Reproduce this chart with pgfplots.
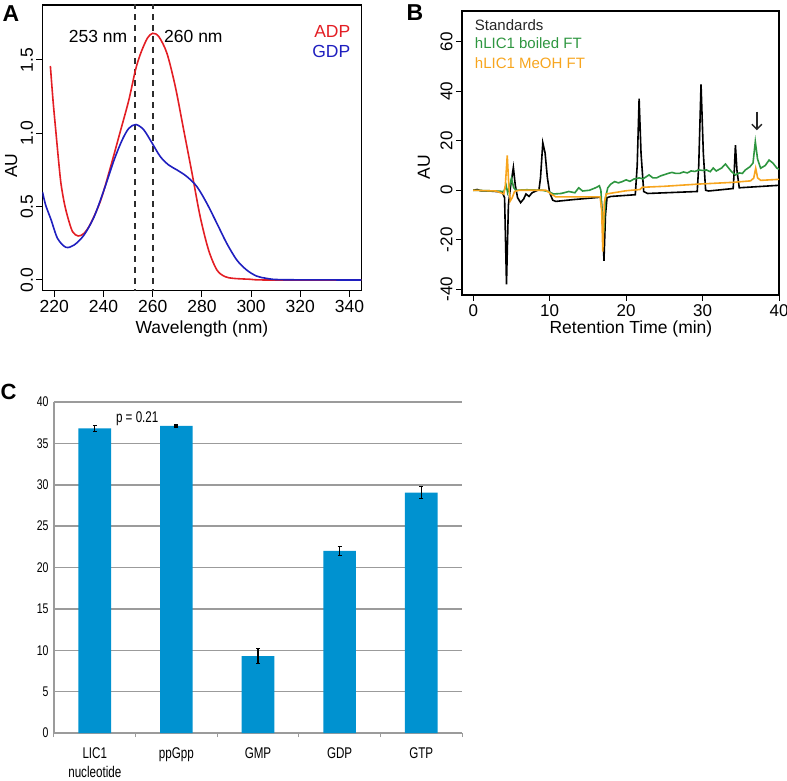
\documentclass[border=0pt]{standalone}
\usepackage{pgfplots}
\pgfplotsset{compat=1.18}
\usetikzlibrary{arrows.meta}
\usepackage{fontspec}
\setmainfont{Liberation Sans}
\newfontfamily\narrowfont[FakeStretch=0.75]{Liberation Sans}
\definecolor{adp}{RGB}{227,30,36}
\definecolor{gdp}{RGB}{31,31,191}
\definecolor{stdgreen}{RGB}{46,150,64}
\definecolor{meorange}{RGB}{247,165,30}
\definecolor{barblue}{RGB}{0,146,208}
\definecolor{gridgray}{RGB}{155,155,155}
\definecolor{dashgray}{RGB}{45,45,45}
\begin{document}
\begin{tikzpicture}[x=1pt,y=1pt,font=\fontsize{17.5}{20}\selectfont]
\pgfplotsset{/pgf/number format/assume math mode=true}

% ---------------- Panel A ----------------
\begin{axis}[at={(42.5pt,489.3pt)}, anchor=south west, scale only axis,
  width=318.8pt, height=285.7pt,
  xmin=215.2, xmax=344.8, ymin=-0.073, ymax=1.875,
  axis line style={line width=1.1pt},
  tick align=outside, tick pos=left, major tick length=6pt,
  tick style={black, line width=1pt},
  xtick={220,240,...,340},
  ytick={0,0.5,1,1.5}, yticklabels={0.0,0.5,1.0,1.5},
  yticklabel style={rotate=90, anchor=south},
  tick label style={font=\fontsize{17.5}{20}\selectfont},
  xlabel={Wavelength (nm)}, ylabel={AU},
  xlabel style={at={(axis description cs:0.5,-0.1325)}, anchor=center},
  ylabel style={at={(axis description cs:-0.098,0.438)}, anchor=center},
  clip=true]
\addplot[dashgray, line width=2pt, dash pattern=on 6pt off 5pt] coordinates {(253,-0.1) (253,1.9)};
\addplot[dashgray, line width=2pt, dash pattern=on 6pt off 5pt] coordinates {(260,-0.1) (260,1.9)};
\addplot[adp, line width=1.6pt, smooth, tension=0.5] coordinates {
(218.4,1.459)(219.5,1.22)(220.7,1.0)(221.7,0.82)(222.7,0.659)(224,0.53)(225.4,0.432)(227.4,0.33)(229.7,0.30)(232.1,0.318)(234.8,0.386)(238.9,0.545)(242.9,0.773)(247.0,1.023)(250.3,1.227)(253.0,1.432)(255.1,1.545)(257.8,1.648)(260.0,1.682)(262.5,1.659)(265.8,1.545)(269.2,1.318)(272.6,1.023)(276.0,0.727)(279.3,0.432)(282.7,0.205)(286.1,0.068)(289.4,0.023)(292.8,0.011)(299.5,0.005)(306.3,0)(344.8,0)};
\addplot[gdp, line width=1.6pt, smooth, tension=0.5] coordinates {
(215.2,0.60)(216.5,0.51)(218.7,0.41)(221.3,0.284)(224.7,0.223)(228.1,0.239)(232.1,0.307)(236.2,0.432)(240.2,0.614)(244.3,0.818)(247.6,0.955)(250.3,1.034)(253.2,1.06)(256.4,1.023)(259.8,0.932)(263.1,0.841)(266.5,0.784)(269.9,0.75)(273.9,0.705)(278.0,0.636)(282.0,0.523)(286.1,0.386)(290.1,0.25)(294.2,0.136)(298.2,0.068)(302.2,0.027)(306.3,0.011)(313.0,0.002)(344.8,0)};
\node[anchor=east, inner sep=0pt] at (axis cs:249.7,1.657) {253 nm};
\node[anchor=west, inner sep=0pt] at (axis cs:264.6,1.657) {260 nm};
\node[anchor=east, inner sep=0pt, text=adp] at (axis cs:340.4,1.693) {ADP};
\node[anchor=east, inner sep=0pt, text=gdp] at (axis cs:340.4,1.557) {GDP};
\end{axis}

% ---------------- Panel B ----------------
\begin{axis}[at={(462pt,485pt)}, anchor=south west, scale only axis,
  width=317pt, height=284pt,
  xmin=-1.47, xmax=40, ymin=-42.3, ymax=72.4,
  axis line style={line width=1.1pt},
  tick align=outside, tick pos=left, major tick length=6pt,
  tick style={black, line width=1pt},
  xtick={0,10,...,40},
  ytick={-40,-20,0,20,40,60}, yticklabels={-40,-20,0,20,40,60},
  yticklabel style={rotate=90, anchor=south},
  tick label style={font=\fontsize{17}{20}\selectfont},
  xlabel={Retention Time (min)}, ylabel={AU},
  xlabel style={at={(axis description cs:0.533,-0.119)}, anchor=center},
  ylabel style={at={(axis description cs:-0.12,0.451)}, anchor=center},
  clip=true]
\addplot[black, line width=1.6pt, sharp plot] coordinates {
(0,0)(0.5,0.3)(1,-0.2)(2,-0.3)(3,-0.5)(3.8,-0.8)(4.1,-3)(4.35,-38)(4.6,-6)(4.9,2)(5.25,9.2)(5.5,2)(5.8,-3)(6.2,-5)(6.6,-3.5)(6.9,-1.5)(7.3,-2.5)(7.7,-1)(8.2,-0.3)(8.6,0.2)(8.8,5)(9.1,19.2)(9.4,15)(9.7,5)(10.0,-1)(10.4,-4)(10.8,-4.5)(13,-3.8)(16.7,-2.8)(16.9,-10)(17.1,-28.5)(17.3,-10)(17.5,-3)(18,-2.5)(21.2,-1.8)(21.45,10)(21.7,37)(21.95,15)(22.3,-0.5)(22.8,-1.3)(29.3,-0.5)(29.5,10)(29.8,42.8)(30.1,15)(30.4,0)(30.8,-0.3)(34.0,0.7)(34.15,8)(34.3,18.2)(34.5,8)(34.8,1)(40,2)};
\addplot[stdgreen, line width=1.6pt, sharp plot] coordinates {
(0,0)(3,-0.3)(4.0,-0.5)(4.3,2)(4.5,-1)(4.7,1)(5.0,4.7)(5.3,1)(5.6,0)(7,0.2)(9,0)(9.8,-0.5)(10.5,-1.5)(11.5,-1.3)(12.5,-0.5)(13.3,-1)(13.8,1)(14.3,-0.3)(15.2,0)(16,1)(16.5,1.8)(16.7,0)(16.9,-12)(17.1,-15)(17.3,-3)(17.6,1)(18,2.5)(18.5,3.5)(19,3)(19.5,3.5)(20,4.2)(20.5,3.6)(21,4.5)(21.7,5)(22.2,4.6)(23,6.2)(23.5,5)(24,5)(24.5,5.8)(25.6,6.9)(26,7.2)(26.5,6.8)(27,6.8)(27.5,7.4)(28,7)(28.5,7.8)(29,7.6)(29.5,8.2)(30,8)(30.5,8.2)(31,7.5)(31.4,9)(31.8,7.8)(32.5,9)(33,10.6)(33.4,9)(33.8,7.5)(34.3,6.2)(34.8,7)(35.2,6.8)(35.6,8.2)(36.2,9.5)(36.6,11)(36.9,19.6)(37.2,12.5)(37.6,8.9)(38.2,10)(38.7,12.2)(39.2,11)(39.7,9)(40,8.5)};
\addplot[meorange, line width=1.6pt, sharp plot] coordinates {
(0,0)(3,-0.3)(4.0,-1.5)(4.2,2)(4.45,14.1)(4.65,2)(4.85,-4.3)(5.1,-3)(5.4,-0.5)(6,0)(9.5,0)(10.2,-1.5)(10.8,-2.7)(16.6,-2.7)(16.8,-8)(16.95,-24.8)(17.15,-5)(17.4,-1.5)(18,-1.2)(20,-0.2)(21.8,0.3)(22.1,1.2)(25,1.6)(29.5,2.5)(34,3.2)(36.3,3.8)(36.7,5)(36.95,8.9)(37.2,5)(37.6,4)(40,4.4)};
\addplot[black!85, line width=1.5pt, -{Straight Barb[length=5pt,width=10pt]}] coordinates {(37.1,31.8) (37.1,24.2)};
\node[anchor=west, inner sep=0pt, font=\fontsize{15}{18}\selectfont, text=black!85] at (axis cs:0.2,66.7) {Standards};
\node[anchor=west, inner sep=0pt, font=\fontsize{15}{18}\selectfont, text=stdgreen] at (axis cs:0.2,59.3) {hLIC1 boiled FT};
\node[anchor=west, inner sep=0pt, font=\fontsize{15}{18}\selectfont, text=meorange] at (axis cs:0.2,51.5) {hLIC1 MeOH FT};
\end{axis}

% ---------------- Panel C ----------------
\begin{axis}[at={(54pt,47pt)}, anchor=south west, scale only axis,
  width=408pt, height=331pt,
  xmin=0, xmax=5, ymin=0, ymax=40,
  axis x line*=bottom, axis y line*=left,
  axis line style={-, draw=gridgray, line width=1.5pt},
  ymajorgrids, grid style={gridgray, line width=1.5pt},
  ytick={0,5,...,40},
  xtick={0.5,1.5,2.5,3.5,4.5},
  xticklabels={{LIC1\\nucleotide},ppGpp,GMP,GDP,GTP},
  minor xtick={0,1,2,3,4,5},
  major tick length=0pt, minor tick length=4pt, tick align=outside,
  minor tick style={gridgray, line width=1pt},
  xticklabel style={align=center, font=\narrowfont\fontsize{15.5}{19}\selectfont, yshift=-11pt},
  yticklabel style={font=\narrowfont\fontsize{14}{15}\selectfont, xshift=-2pt},
  clip=false]
\addplot[ybar, bar width=0.4, fill=barblue, draw=none,
  error bars/.cd, y dir=both, y explicit, error mark=|,
  error bar style={black, line width=1.2pt},
  error mark options={black, mark size=2pt, line width=1.2pt}]
  coordinates {(0.5,36.8) +- (0,0.4) (1.5,37.1) +- (0,0.12) (2.5,9.3) +- (0,0.9) (3.5,22.0) +- (0,0.55) (4.5,29.05) +- (0,0.7)};
\node[font=\narrowfont\fontsize{15.5}{18}\selectfont] at (axis cs:1.02,38.0) {p = 0.21};
\end{axis}

\node[font=\bfseries\fontsize{23}{23}\selectfont] at (11,766.5) {A};
\node[font=\bfseries\fontsize{23}{23}\selectfont] at (415,767.5) {B};
\node[font=\bfseries\fontsize{22}{22}\selectfont] at (8.5,388.3) {C};

\pgfresetboundingbox
\path[use as bounding box] (0,0) rectangle (787,780);
\end{tikzpicture}
\end{document}
